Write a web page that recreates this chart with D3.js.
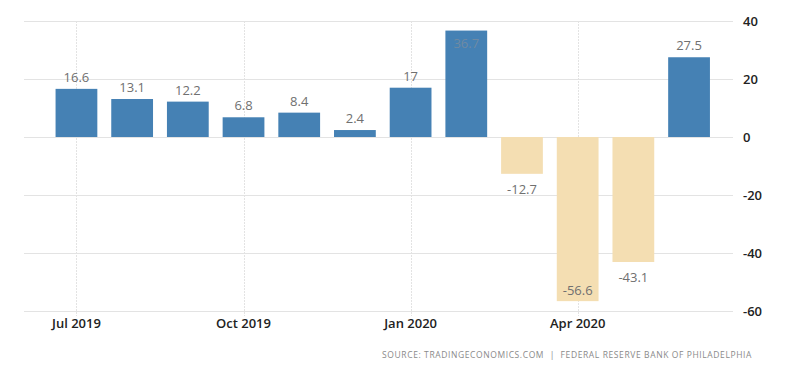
<!DOCTYPE html>
<html>
<head>
<meta charset="utf-8">
<script src="https://cdn.jsdelivr.net/npm/d3@7"></script>
<style>
  body { margin: 0; background: #fff; }
  svg { display: block; font-family: "Open Sans", sans-serif; }
</style>
</head>
<body>
<div id="chart"></div>
<script>
'use strict';

var months = ['Jul 2019', 'Aug 2019', 'Sep 2019', 'Oct 2019', 'Nov 2019', 'Dec 2019',
              'Jan 2020', 'Feb 2020', 'Mar 2020', 'Apr 2020', 'May 2020', 'Jun 2020'];
var values = [16.6, 13.1, 12.2, 6.8, 8.4, 2.4, 17, 36.7, -12.7, -56.6, -43.1, 27.5];
var xTickLabels = ['Jul 2019', 'Oct 2019', 'Jan 2020', 'Apr 2020'];
var yTicks = [40, 20, 0, -20, -40, -60];
var sourceText = 'SOURCE: TRADINGECONOMICS.COM  |  FEDERAL RESERVE BANK OF PHILADELPHIA';

var width = 800, height = 373;
var gridLeft = 24, gridRight = 733;

var svg = d3.select('#chart').append('svg')
    .attr('width', width)
    .attr('height', height);

var x = d3.scaleBand()
    .domain(months)
    .range([48.6, 716.9])
    .paddingInner(0.25)
    .paddingOuter(0.125);

var y = d3.scaleLinear()
    .domain([-60, 40])
    .range([311, 21]);

// horizontal grid
svg.append('g')
    .attr('class', 'hgrid')
    .selectAll('line')
    .data(yTicks)
    .enter().append('line')
    .attr('x1', gridLeft)
    .attr('x2', gridRight)
    .attr('y1', function(d) { return Math.round(y(d)) + 0.5; })
    .attr('y2', function(d) { return Math.round(y(d)) + 0.5; })
    .style('stroke', '#e3e3e3')
    .style('stroke-width', 1);

// vertical grid at labelled months
svg.append('g')
    .attr('class', 'vgrid')
    .selectAll('line')
    .data(xTickLabels)
    .enter().append('line')
    .attr('x1', function(d) { return Math.round(x(d) + x.bandwidth() / 2) + 0.5; })
    .attr('x2', function(d) { return Math.round(x(d) + x.bandwidth() / 2) + 0.5; })
    .attr('y1', y(40))
    .attr('y2', y(-60) + 5)
    .style('stroke', '#e3e3e3')
    .style('stroke-dasharray', '2,1')
    .style('stroke-width', 1);

// bars
svg.append('g')
    .attr('class', 'bars')
    .selectAll('rect')
    .data(months)
    .enter().append('rect')
    .attr('x', function(d) { return x(d); })
    .attr('width', x.bandwidth())
    .attr('y', function(d, i) { return y(Math.max(0, values[i])); })
    .attr('height', function(d, i) { return Math.abs(y(values[i]) - y(0)); })
    .style('fill', function(d, i) { return values[i] >= 0 ? '#4581b4' : '#f4deb2'; });

// value labels
svg.append('g')
    .attr('class', 'labels')
    .selectAll('text')
    .data(months)
    .enter().append('text')
    .attr('x', function(d) { return x(d) + x.bandwidth() / 2; })
    .attr('y', function(d, i) {
        var v = values[i];
        if (v >= 0) {
            // too tall: put inside
            if (y(v) - 20 < y(40)) return y(v) + 17;
            return y(v) - 7;
        }
        if (y(v) + 20 > y(-60)) return y(v) - 6;
        return y(v) + 20;
    })
    .attr('text-anchor', 'middle')
    .style('font-size', '13px')
    .style('fill', function(d, i) {
        return (values[i] >= 0 && y(values[i]) - 20 < y(40)) ? '#6f8aa3' : '#707070';
    })
    .text(function(d, i) { return values[i]; });

// y axis labels
svg.append('g')
    .attr('class', 'yaxis')
    .selectAll('text')
    .data(yTicks)
    .enter().append('text')
    .attr('x', 743)
    .attr('y', function(d) { return y(d) + 5; })
    .style('font-size', '13px')
    .style('font-weight', 600)
    .style('fill', '#222')
    .text(function(d) { return d; });

// x axis labels
svg.append('g')
    .attr('class', 'xaxis')
    .selectAll('text')
    .data(xTickLabels)
    .enter().append('text')
    .attr('x', function(d) { return x(d) + x.bandwidth() / 2; })
    .attr('y', 328)
    .attr('text-anchor', 'middle')
    .style('font-size', '13px')
    .style('font-weight', 600)
    .style('fill', '#222')
    .text(function(d) { return d; });

// source
svg.append('text')
    .attr('x', 752)
    .attr('y', 358)
    .attr('text-anchor', 'end')
    .style('font-size', '8.5px')
    .style('letter-spacing', '0.6px')
    .style('fill', '#8a8a8a')
    .style('white-space', 'pre')
    .attr('xml:space', 'preserve')
    .text(sourceText);
</script>
</body>
</html>
